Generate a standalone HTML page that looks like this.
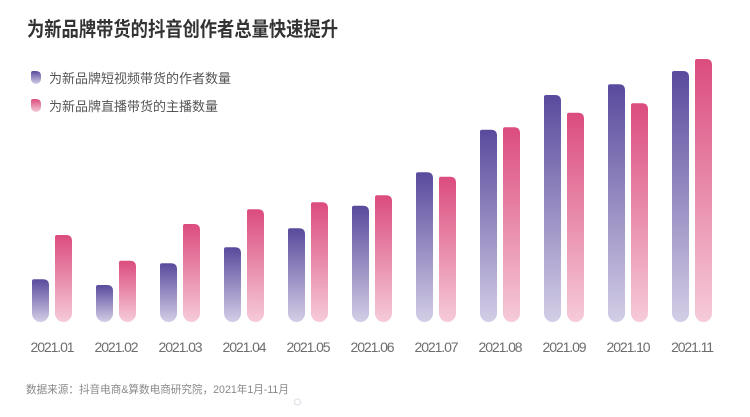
<!DOCTYPE html>
<html><head><meta charset="utf-8"><style>
html,body{margin:0;padding:0;background:#fff;}
body{width:750px;height:417px;overflow:hidden;position:relative;font-family:"Liberation Sans","Noto Sans CJK SC",sans-serif;}
svg{position:absolute;left:0;top:0;}
</style></head><body>
<svg width="750" height="417" viewBox="0 0 750 417" xmlns="http://www.w3.org/2000/svg">
<defs>
<linearGradient id="gp" x1="0" y1="0" x2="0" y2="1"><stop offset="0" stop-color="#5a4a9d"/><stop offset="1" stop-color="#d3cee6"/></linearGradient>
<linearGradient id="gk" x1="0" y1="0" x2="0" y2="1"><stop offset="0" stop-color="#db4c7e"/><stop offset="1" stop-color="#f6cbd9"/></linearGradient>
</defs>
<text x="27" y="36" font-size="20" font-weight="bold" fill="#333" textLength="311" lengthAdjust="spacingAndGlyphs" font-family="'Liberation Sans','Noto Sans CJK SC',sans-serif">为新品牌带货的抖音创作者总量快速提升</text>
<path d="M31,73 Q31,71 33,71 L36,71 Q41,71 41,76 L41,79 A5,5 0 0 1 31,79 Z" fill="url(#gp)"/>
<path d="M31,101 Q31,99 33,99 L36,99 Q41,99 41,104 L41,107 A5,5 0 0 1 31,107 Z" fill="url(#gk)"/>
<text x="49" y="83" font-size="13" fill="#555" font-family="'Liberation Sans','Noto Sans CJK SC',sans-serif">为新品牌短视频带货的作者数量</text>
<text x="49" y="111" font-size="13" fill="#555" font-family="'Liberation Sans','Noto Sans CJK SC',sans-serif">为新品牌直播带货的主播数量</text>
<g id="bars"></g>
<g font-size="14" fill="#6e6e6e" text-anchor="middle" letter-spacing="-1.1" font-family="'Liberation Sans',sans-serif">
<text x="52" y="352">2021.01</text>
<text x="116" y="352">2021.02</text>
<text x="180" y="352">2021.03</text>
<text x="244" y="352">2021.04</text>
<text x="308" y="352">2021.05</text>
<text x="372" y="352">2021.06</text>
<text x="436" y="352">2021.07</text>
<text x="500" y="352">2021.08</text>
<text x="564" y="352">2021.09</text>
<text x="628" y="352">2021.10</text>
<text x="692" y="352">2021.11</text>
</g>
<text x="26" y="393" font-size="10.6" fill="#888" font-family="'Liberation Sans','Noto Sans CJK SC',sans-serif">数据来源：抖音电商&amp;算数电商研究院，2021年1月-11月</text>
<circle cx="297.5" cy="402" r="3" fill="none" stroke="#dcdce8" stroke-width="1"/>
</svg>
<script>
(function(){
var pt=[279.3,285,263.3,247.3,228.3,205.7,172.3,129.7,95,84.3,71];
var kt=[235,260.7,224,209.3,202.3,195.3,176.7,127.3,112.7,103.3,59];
var b=322,w=17,r=w/2;
function p(x,y,fill){
 return '<path d="M'+x+','+(y+2)+' Q'+x+','+y+' '+(x+2)+','+y+' L'+(x+w-6)+','+y+' Q'+(x+w)+','+y+' '+(x+w)+','+(y+6)+' L'+(x+w)+','+(b-r)+' A'+r+','+r+' 0 0 1 '+x+','+(b-r)+' Z" fill="'+fill+'"/>';
}
var s='';
for(var i=0;i<11;i++){s+=p(32+64*i,pt[i],'url(#gp)');s+=p(55+64*i,kt[i],'url(#gk)');}
document.getElementById('bars').innerHTML=s;
})();
</script>
</body></html>
